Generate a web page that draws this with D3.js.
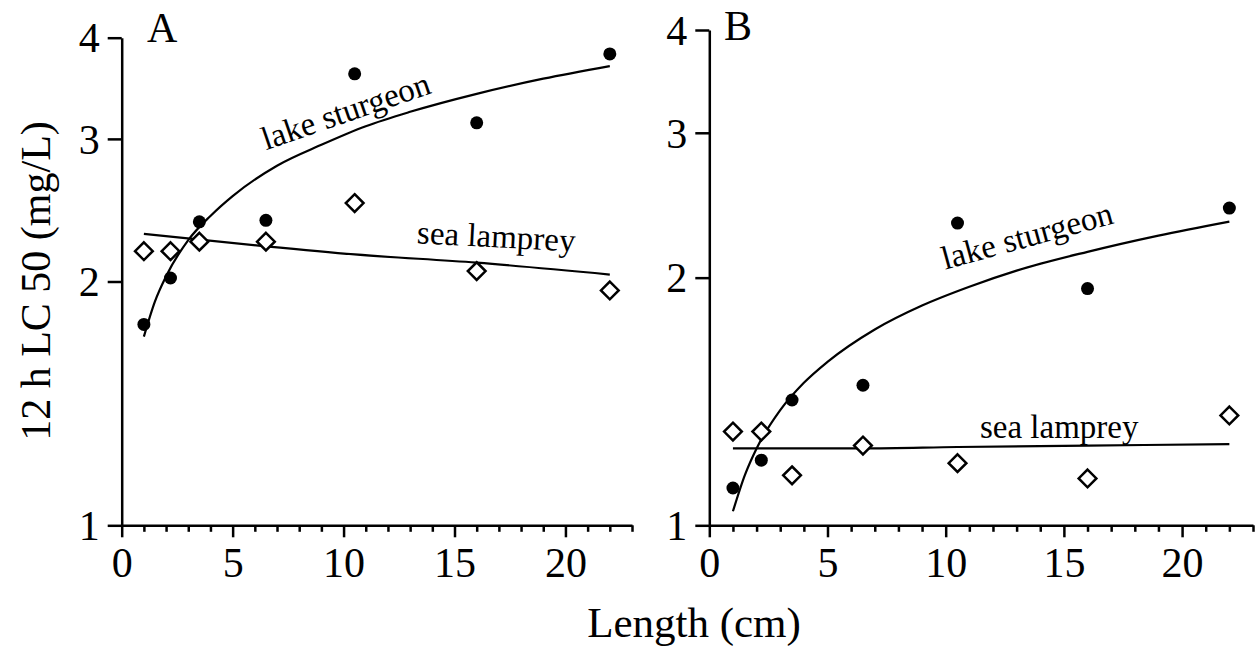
<!DOCTYPE html>
<html>
<head>
<meta charset="utf-8">
<script src="https://cdn.jsdelivr.net/npm/d3@7"></script>
<style>
  body { margin: 0; background: #fff; }
  svg { display: block; font-family: "Liberation Serif", "Times New Roman", serif; }
  .axis path, .axis line { stroke: #000; stroke-width: 2.5; }
  .axis text { font-size: 42px; fill: #000; font-family: "Liberation Serif", serif; }
</style>
</head>
<body>
<div id="chart"></div>
<script>
// fish length (cm) at which the 12 h LC50 was measured
const lengths = [1.0, 2.2, 3.5, 6.5, 10.5, 16.0, 22.0];

// panel A observations
const sturgeonA = [1.77, 2.02, 2.37, 2.38, 3.61, 3.14, 3.82];
const lampreyA  = [2.18, 2.18, 2.24, 2.24, 2.50, 2.06, 1.95];

// panel B observations
const sturgeonB = [1.11, 1.20, 1.42, 1.48, 2.33, 1.94, 2.43];
const lampreyB  = [1.30, 1.30, 1.15, 1.25, 1.19, 1.14, 1.36];

// fitted lines
const sturgeonFitX = [1, 1.5, 2, 3, 4, 5, 7, 9, 11, 13, 16, 19, 22];
const sturgeonFitA = [1.71, 1.89, 2.03, 2.25, 2.41, 2.55, 2.78, 2.95, 3.11, 3.24, 3.41, 3.56, 3.69];
const sturgeonFitB = [1.04, 1.15, 1.24, 1.38, 1.49, 1.58, 1.73, 1.85, 1.95, 2.04, 2.15, 2.25, 2.34];
const lampreyFitX = [1, 6.5, 10.5, 16, 22];
const lampreyFitA = [2.29, 2.21, 2.16, 2.11, 2.04];
const lampreyFitB = [1.24, 1.24, 1.245, 1.25, 1.255];

const yTicks = [1, 2, 3, 4];
const xTicks = [0, 5, 10, 15, 20];

const W = 1256, H = 656;

const svg = d3.select("#chart").append("svg")
  .attr("width", W)
  .attr("height", H);

function draw_panel(p) {
  const x = d3.scaleLinear().domain([0, 23]).range([p.left, p.right]);
  const y = d3.scaleLog().domain([1, 4]).range([p.bottom, p.top]);
  const g = svg.append("g");

  // y axis
  g.append("g")
    .classed("axis", true)
    .attr("transform", `translate(${p.left},0)`)
    .call(d3.axisLeft(y).tickValues(yTicks).tickFormat(d3.format("d"))
      .tickSize(14).tickSizeOuter(0).tickPadding(8))
    .call(a => a.selectAll("text").attr("dy", "0.34em"));

  // x axis, minor tick every cm
  const xa = g.append("g")
    .classed("axis", true)
    .attr("transform", `translate(0,${p.bottom})`)
    .call(d3.axisBottom(x).tickValues(d3.range(0, 24)).tickSize(12).tickSizeOuter(0)
      .tickPadding(10).tickFormat(d => xTicks.includes(d) ? d : ""));
  xa.selectAll(".tick line").attr("y2", d => d % 5 == 0 ? 12 : 6.5);

  const line = d3.line()
    .x(d => x(d[0]))
    .y(d => y(d[1]))
    .curve(d3.curveMonotoneX);

  g.append("path")
    .datum(d3.zip(sturgeonFitX, p.sturgeonFit))
    .attr("d", line)
    .attr("fill", "none").attr("stroke", "#000").attr("stroke-width", 2.2);
  g.append("path")
    .datum(d3.zip(lampreyFitX, p.lampreyFit))
    .attr("d", line)
    .attr("fill", "none").attr("stroke", "#000").attr("stroke-width", 2.2);

  // open diamonds (sea lamprey)
  g.selectAll("path.lamprey")
    .data(d3.zip(lengths, p.lamprey))
    .join("path")
      .classed("lamprey", true)
      .attr("d", d3.symbol(d3.symbolDiamond2, 200))
      .attr("transform", d => `translate(${x(d[0])},${y(d[1])})`)
      .attr("fill", "#fff").attr("stroke", "#000").attr("stroke-width", 2.5);

  // filled circles (lake sturgeon)
  g.selectAll("circle.sturgeon")
    .data(d3.zip(lengths, p.sturgeon))
    .join("circle")
      .classed("sturgeon", true)
      .attr("cx", d => x(d[0]))
      .attr("cy", d => y(d[1]))
      .attr("r", 6.5)
      .attr("fill", "#000");

  // curve labels
  for (const lab of p.labels) {
    g.append("text")
      .attr("transform", `translate(${x(lab.at[0])},${y(lab.at[1])}) rotate(${lab.angle})`)
      .attr("font-size", 33)
      .text(lab.text);
  }

  g.append("text")
    .attr("x", p.tagX).attr("y", p.tagY)
    .attr("font-size", 42)
    .text(p.tag);
}

draw_panel({
  left: 121.7, right: 632, top: 37.7, bottom: 525.3,
  sturgeon: sturgeonA, lamprey: lampreyA,
  sturgeonFit: sturgeonFitA, lampreyFit: lampreyFitA,
  tag: "A", tagX: 147, tagY: 42,
  labels: [
    {text: "lake sturgeon", at: [6.5, 2.905], angle: -19},
    {text: "sea lamprey", at: [13.29, 2.23], angle: 3}
  ]
});

draw_panel({
  left: 709.3, right: 1253, top: 30, bottom: 525.3,
  sturgeon: sturgeonB, lamprey: lampreyB,
  sturgeonFit: sturgeonFitB, lampreyFit: lampreyFitB,
  tag: "B", tagX: 724, tagY: 40,
  labels: [
    {text: "lake sturgeon", at: [9.97, 2.045], angle: -15.3},
    {text: "sea lamprey", at: [11.45, 1.276], angle: 0}
  ]
});

// axis titles
svg.append("text")
  .attr("transform", "translate(50,281) rotate(-90)")
  .attr("text-anchor", "middle")
  .attr("font-size", 42)
  .text("12 h LC 50 (mg/L)");

svg.append("text")
  .attr("x", 694).attr("y", 637)
  .attr("text-anchor", "middle")
  .attr("font-size", 43)
  .text("Length (cm)");
</script>
</body>
</html>
